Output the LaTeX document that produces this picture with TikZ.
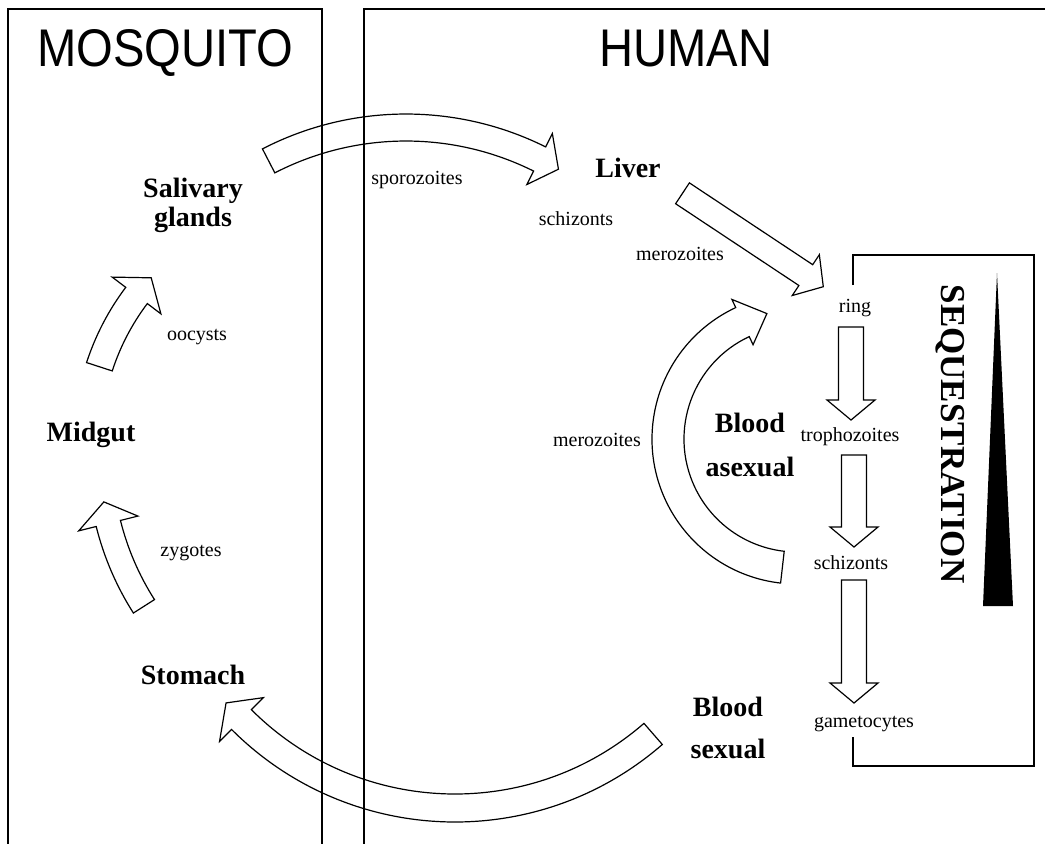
\documentclass[tikz,border=0pt]{standalone}
\usepackage{fontspec}
\setmainfont{Liberation Serif}
\newfontfamily\headfont[FakeStretch=0.89]{Liberation Sans}
\usepackage{tikz}
\usetikzlibrary{calc}

% curved block arrow: centre, tail angle, head angle, tip angle, outer r, inner r, barb
\newcommand{\arcarrow}[7]{%
  \draw[blockarr] ($(#1)+(#2:#5)$) arc[start angle=#2, end angle=#3, radius=#5]
    -- ($(#1)+(#3:{#5+#7})$) -- ($(#1)+(#4:{(#5+#6)/2})$)
    -- ($(#1)+(#3:{#6-#7})$) -- ($(#1)+(#3:#6)$)
    arc[start angle=#3, end angle=#2, radius=#6] -- cycle;}
% straight block arrow: tail, tip, shaft half width, head half width, head length
\newcommand{\blockarrow}[5]{%
  \coordinate (hb) at ($(#2)!#5!(#1)$);
  \draw[blockarr] ($(#1)!#3!90:(#2)$) -- ($(hb)!#3!90:(#2)$) -- ($(hb)!#4!90:(#2)$) -- (#2)
    -- ($(hb)!#4!-90:(#2)$) -- ($(hb)!#3!-90:(#2)$) -- ($(#1)!#3!-90:(#2)$) -- cycle;}

\begin{document}
\begin{tikzpicture}[
    x=1pt,y=-1pt,
    boxline/.style={draw=black,line width=1.3pt},
    blockarr/.style={draw=black,line width=1.2pt,line join=miter},
    title/.style={font=\headfont\fontsize{53}{60}\selectfont,inner sep=0pt,anchor=base},
    organ/.style={font=\bfseries\fontsize{28}{29}\selectfont,align=center,inner sep=0pt},
    stage/.style={font=\fontsize{20}{22}\selectfont,inner sep=0pt}
  ]
    \useasboundingbox (0,0) rectangle (1045,844);
    \draw[boxline] (8,844) -- (8,9) -- (322,9) -- (322,844);
    \draw[boxline] (364,844) -- (364,9) -- (1045,9);
    \draw[boxline] (853,285) -- (853,255) -- (1034,255) -- (1034,766) -- (853,766) -- (853,737);

    \node[title] (mosq) at (165,66) {MOSQUITO};
    \node[title] (human) at (686,66) {HUMAN};

    \node[organ] (saliv) at (193,205) {Salivary\\glands};
    \node[organ] (midgut) at (91,435) {Midgut};
    \node[organ] (stomach) at (193,675) {Stomach};
    \node[organ] (liver) at (628,168) {Liver};
    \node[organ] (basex) at (750,445) {Blood\\[15pt]asexual};
    \node[organ] (bsex) at (728,728) {Blood\\[13pt]sexual};

    \node[stage] (sporo) at (417,180) {sporozoites};
    \node[stage] (schizL) at (576,219) {schizonts};
    \node[stage] (merozL) at (680,254) {merozoites};
    \node[stage] (oocysts) at (197,337) {oocysts};
    \node[stage] (zygotes) at (191,553) {zygotes};
    \node[stage] (merozB) at (597,440) {merozoites};
    \node[stage] (ring) at (855,308) {ring};
    \node[stage] (tropho) at (850,437) {trophozoites};
    \node[stage] (schizB) at (851,563) {schizonts};
    \node[stage] (gameto) at (864,724) {gametocytes};

    \node[rotate=-90,font=\bfseries\fontsize{35}{36}\selectfont,inner sep=0pt] (seq) at (950,434) {SEQUESTRATION};
    \fill (997,273) -- (1013,606) -- (983,606) -- cycle;

    \coordinate (cSporo) at (406,427);
    \coordinate (cSexual) at (455,506);
    \coordinate (cAsexual) at (797,439);
    \coordinate (cOocyst) at (331,442);
    \coordinate (cZygote) at (380.5,455.6);
    \arcarrow{cSporo}{-117.3}{-63.5}{-59.4}{313}{286}{15}
    \arcarrow{cSexual}{49}{135}{139.3}{316}{288}{17}
    \arcarrow{cAsexual}{96.5}{245}{256.5}{145}{113}{9}
    \arcarrow{cOocyst}{198}{217}{222.4}{257}{230}{17}
    \arcarrow{cZygote}{147.5}{166}{170.5}{293}{268}{18}

    \coordinate (livTail) at (682.5,193.3);
    \coordinate (ringTip) at (823.3,286.7);
    \coordinate (ringTail) at (851,327);
    \coordinate (trophoTip) at (851,420);
    \coordinate (trophoTail) at (854,455);
    \coordinate (schizTip) at (854,547);
    \coordinate (schizTail) at (854,580);
    \coordinate (gametoTip) at (854,703);
    \blockarrow{livTail}{ringTip}{12.5pt}{24.5pt}{21pt}
    \blockarrow{ringTail}{trophoTip}{12.5pt}{24pt}{20pt}
    \blockarrow{trophoTail}{schizTip}{12.5pt}{24pt}{20pt}
    \blockarrow{schizTail}{gametoTip}{12.5pt}{24pt}{20pt}
  \end{tikzpicture}
\end{document}
